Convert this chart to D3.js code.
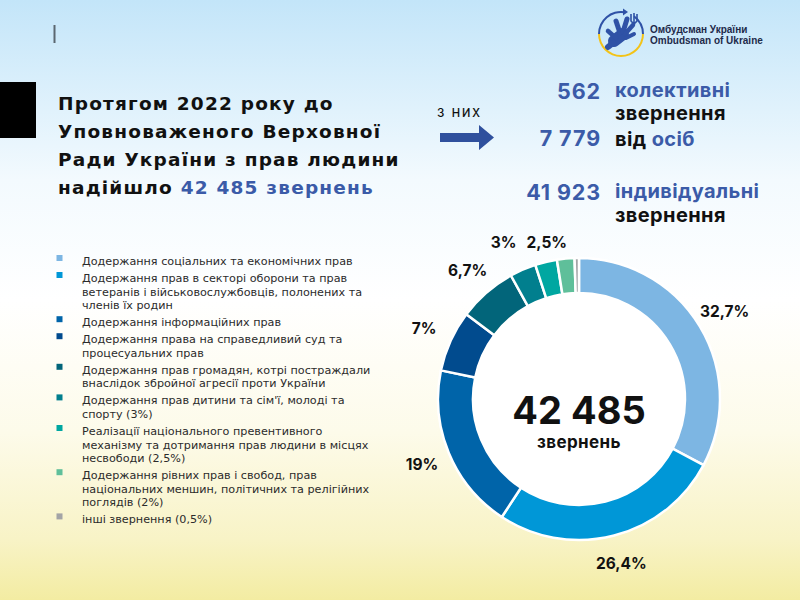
<!DOCTYPE html>
<html><head><meta charset="utf-8">
<script src="https://cdn.jsdelivr.net/npm/d3@7"></script>
<style>html,body{margin:0;padding:0;}svg{display:block;}</style>
</head><body>
<svg id="c" width="800" height="600"></svg>
<script>
// ---- data ----
const categories = [
  "Додержання соціальних та економічних прав",
  "Додержання прав в секторі оборони та прав\nветеранів і військовослужбовців, полонених та\nчленів їх родин",
  "Додержання інформаційних прав",
  "Додержання права на справедливий суд та\nпроцесуальних прав",
  "Додержання прав громадян, котрі постраждали\nвнаслідок збройної агресії проти України",
  "Додержання прав дитини та сім'ї, молоді та\nспорту (3%)",
  "Реалізації національного превентивного\nмеханізму та дотримання прав людини в місцях\nнесвободи (2,5%)",
  "Додержання рівних прав і свобод, прав\nнаціональних меншин, політичних та релігійних\nпоглядів (2%)",
  "інші звернення (0,5%)"
];
const shares = [32.7, 26.4, 19, 7, 6.7, 3, 2.5, 2, 0.5];
const shareLabels = ["32,7%", "26,4%", "19%", "7%", "6,7%", "3%", "2,5%", "", ""];
const colors = ["#7db6e3", "#0097d7", "#0064a9", "#014b8e", "#02657a", "#017f8e", "#00a7a1", "#5fbf9a", "#a3a4a6"];
const totalLabel = "42 485";
const totalCaption = "звернень";
const titleLines = ["Протягом 2022 року до", "Уповноваженого Верховної", "Ради України з прав людини"];
const titleLast = ["надійшло ", "42 485 звернень"];
const statNumbers = ["562", "7 779", "41 923"];
const statTexts = [
  [["колективні", "blue"], ["звернення", "black"]],
  [["від ", "black"], ["осіб", "blue"]],
  [["індивідуальні", "blue"], ["звернення", "black"]]
];
const ofThem = "з них";
const logoLines = ["Омбудсман України", "Ombudsman of Ukraine"];

// ---- drawing ----
const svg = d3.select("#c");
const W = 800, H = 600;
const BLUE = "#3b5ba8", INK = "#111";
const titleFont = "Inter, 'Open Sans', sans-serif";
const wideFont = "'DejaVu Sans', Verdana, sans-serif";

const defs = svg.append("defs");
const bg = defs.append("linearGradient").attr("id", "bg").attr("x1", 0).attr("y1", 0).attr("x2", 0).attr("y2", 1);
[[0, "#c3e5f9"], [0.3, "#f3fafe"], [0.5, "#ffffff"], [0.72, "#fdfbea"], [0.9, "#f8f3c6"], [1, "#f3eca2"]]
  .forEach(([o, c]) => bg.append("stop").attr("offset", o).attr("stop-color", c));
svg.append("rect").attr("width", W).attr("height", H).attr("fill", "url(#bg)");

// small vertical mark & black block
svg.append("rect").attr("x", 53.5).attr("y", 25).attr("width", 2).attr("height", 18).attr("fill", "#5b6770");
svg.append("rect").attr("x", 0).attr("y", 82).attr("width", 36).attr("height", 56).attr("fill", "#000");

// title
const title = svg.append("text").attr("font-family", wideFont).attr("font-weight", 700)
  .attr("font-size", 18.5).attr("letter-spacing", 1.2).attr("fill", INK);
titleLines.forEach((l, i) => title.append("tspan").attr("x", 58).attr("y", 110 + i * 28).text(l));
const tl = title.append("tspan").attr("x", 58).attr("y", 110 + 3 * 28);
tl.append("tspan").text(titleLast[0]);
tl.append("tspan").attr("fill", BLUE).text(titleLast[1]);

// "з них" + arrow
svg.append("text").attr("x", 437).attr("y", 117).attr("font-family", titleFont).attr("font-size", 15)
  .attr("letter-spacing", 1.4).attr("fill", INK).text(ofThem);
svg.append("path").attr("d", "M440,133 L479,133 L479,125 L494,137.5 L479,150 L479,142 L440,142 Z").attr("fill", "#2f509d");

// stats
const statY = [[99, 120], [146], [200, 222]];
statNumbers.forEach((n, i) => {
  svg.append("text").attr("x", 601).attr("y", statY[i][0]).attr("text-anchor", "end")
    .attr("font-family", titleFont).attr("font-weight", 700).attr("font-size", 21.5)
    .attr("letter-spacing", 0.9).attr("fill", BLUE).text(n);
});
statTexts.forEach((parts, i) => {
  if (i === 1) {
    const t = svg.append("text").attr("x", 615).attr("y", statY[1][0]).attr("font-family", titleFont)
      .attr("font-weight", 700).attr("font-size", 20).attr("letter-spacing", 0.4);
    parts.forEach(p => t.append("tspan").attr("fill", p[1] === "blue" ? BLUE : INK).text(p[0]));
  } else {
    parts.forEach((p, j) => {
      svg.append("text").attr("x", 615).attr("y", j === 0 ? statY[i][0] - 2 : statY[i][1])
        .attr("font-family", titleFont).attr("font-weight", 700).attr("font-size", 20).attr("letter-spacing", 0.4)
        .attr("fill", p[1] === "blue" ? BLUE : INK).text(p[0]);
    });
  }
});

// legend
const leg = svg.append("g").attr("font-family", wideFont).attr("font-size", 11.2).attr("fill", "#2b2b2b");
const lh = 13.6, gap = 3.4;
let y = 265;
categories.forEach((c, i) => {
  const lines = c.split("\n");
  leg.append("rect").attr("x", 56.5).attr("y", y - 10).attr("width", 6).attr("height", 6).attr("fill", colors[i]);
  const t = leg.append("text");
  lines.forEach((l, k) => t.append("tspan").attr("x", 82).attr("y", y + k * lh).text(l));
  y += lines.length * lh + gap;
});

// donut
const cx = 579, cy = 399, R = 141, r = 106;
const pie = d3.pie().sort(null).value(d => d)(shares);
const arc = d3.arc().innerRadius(r).outerRadius(R);
const g = svg.append("g").attr("transform", `translate(${cx},${cy})`);
g.append("circle").attr("r", r).attr("fill", "#fff");
g.selectAll("path.s").data(pie).join("path").attr("class", "s")
  .attr("d", arc).attr("fill", (d, i) => colors[i]).attr("stroke", "#fff").attr("stroke-width", 2.5);

const labelArc = d3.arc().innerRadius(170).outerRadius(170);
const labs = g.selectAll("text.l").data(pie.filter((d, i) => shareLabels[i])).join("text").attr("class", "l")
  .attr("text-anchor", "middle").attr("dy", "0.35em")
  .attr("font-family", titleFont).attr("font-weight", 700).attr("font-size", 15.5).attr("fill", INK)
  .text(d => shareLabels[d.index]);
// simple collision relaxation between neighbouring labels
const pos = labs.nodes().map((n, i) => {
  const c = labelArc.centroid(labs.data()[i]);
  n.setAttribute("x", c[0]); n.setAttribute("y", c[1]);
  const w = n.getComputedTextLength();
  return {n, x: c[0], y: c[1], w};
});
for (let i = 0; i < pos.length - 1; i++) {
  const a = pos[i], b = pos[i + 1];
  if (Math.abs(a.y - b.y) < 18) {
    const need = (a.w + b.w) / 2 + 10 - Math.abs(a.x - b.x);
    if (need > 0) {
      const yy = Math.max(a.y, b.y);
      a.y = yy; b.y = yy;
      if (a.x < b.x) { a.x -= need / 2; b.x += need / 2; } else { a.x += need / 2; b.x -= need / 2; }
    }
  }
}
pos.forEach(p => { p.n.setAttribute("x", p.x); p.n.setAttribute("y", p.y); });

g.append("text").attr("y", 25).attr("text-anchor", "middle").attr("font-family", titleFont)
  .attr("font-weight", 700).attr("font-size", 38).attr("fill", INK).text(totalLabel);
g.append("text").attr("y", 49).attr("text-anchor", "middle").attr("font-family", titleFont)
  .attr("font-weight", 700).attr("font-size", 17).attr("letter-spacing", 0.4).attr("fill", INK).text(totalCaption);

// logo
const lg = svg.append("g").attr("transform", "translate(621,34)");
const logoArc = d3.arc().innerRadius(21).outerRadius(23);
lg.append("path").attr("d", logoArc({startAngle: -Math.PI / 2, endAngle: Math.PI * 0.05})).attr("fill", "#2f52a6");
lg.append("path").attr("d", logoArc({startAngle: Math.PI * 0.2, endAngle: Math.PI / 2})).attr("fill", "#2f52a6");
lg.append("path").attr("d", logoArc({startAngle: Math.PI / 2, endAngle: Math.PI * 1.5})).attr("fill", "#f3c318");
lg.append("path").attr("d", "M2,-25.5 L7,-22 L2,-18.5 Z").attr("fill", "#2f52a6");
// trident
lg.append("path").attr("d", "M13,-21 L13,-11 M10,-20 L10,-13 L13,-10 L16,-13 L16,-20 M13,-11 L13,-8")
  .attr("stroke", "#2f52a6").attr("stroke-width", 1.6).attr("fill", "none");
// hand
const hand = lg.append("g").attr("stroke", "#2f52a6").attr("stroke-linecap", "round").attr("fill", "none");
hand.append("path").attr("d", "M-7,7 L2,0").attr("stroke-width", 12);
[["M-1,-1 L-5,-13", 5], ["M2,-2 L6,-15", 5], ["M4,0 L12,-9", 4.5], ["M5,4 L13,0", 4], ["M-5,4 L-13,-3", 4.5]]
  .forEach(([d, w]) => hand.append("path").attr("d", d).attr("stroke-width", w));
hand.append("path").attr("d", "M-8,9 L-13,13").attr("stroke-width", 6);

const lt = svg.append("text").attr("font-family", "'Liberation Sans', Arial, sans-serif").attr("font-weight", 700)
  .attr("font-size", 10).attr("fill", "#1e2a4a");
logoLines.forEach((l, i) => lt.append("tspan").attr("x", 650).attr("y", 33 + i * 10.5).text(l));
</script>
</body></html>
